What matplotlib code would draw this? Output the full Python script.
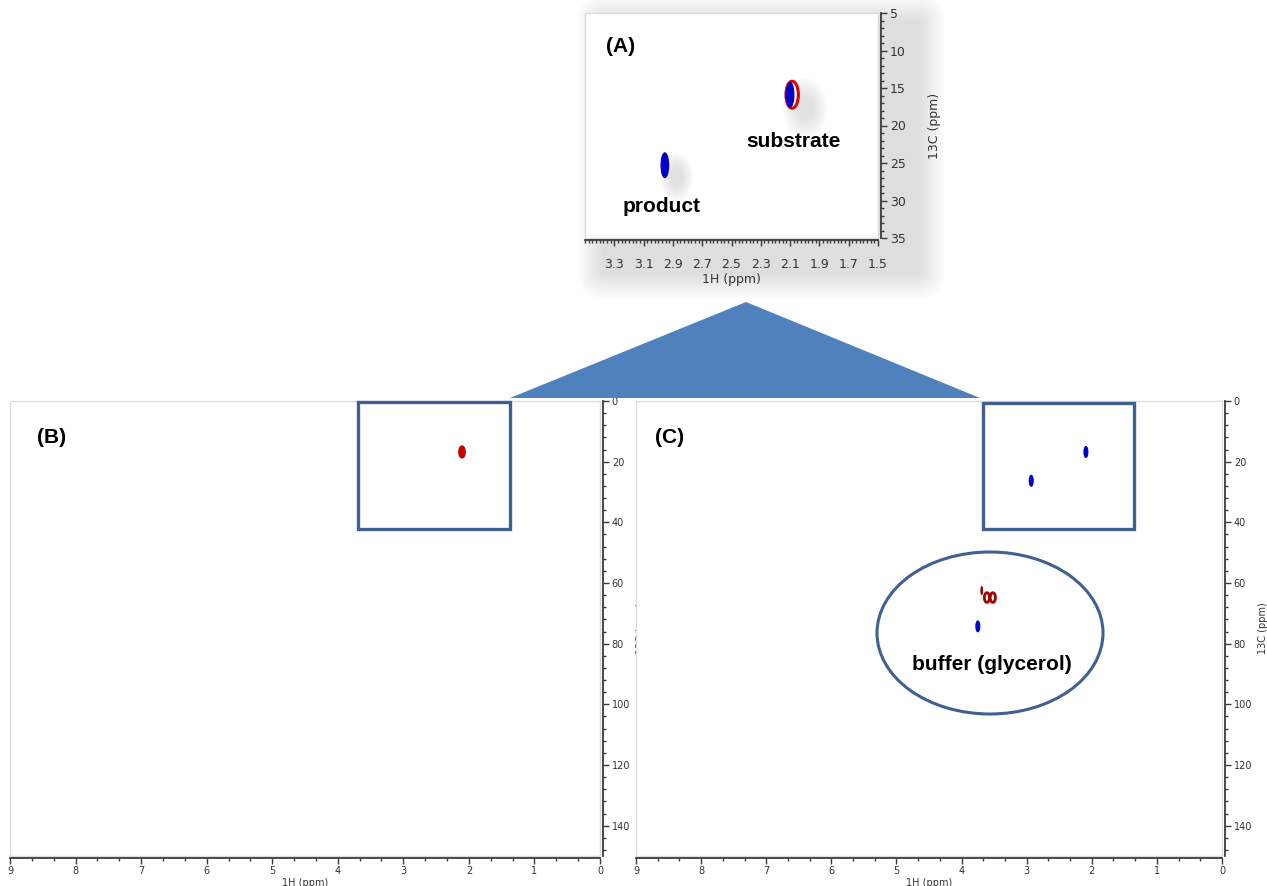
import matplotlib.pyplot as plt
import matplotlib.ticker as ticker
from matplotlib.patches import Ellipse, Rectangle, Polygon, FancyBboxPatch

W, H = 1267, 886

# cross peaks: 1H shift (ppm), 13C shift (ppm)
a_blue_h = [2.10, 2.955]
a_blue_c = [15.9, 25.3]
a_red_h = [2.086]
a_red_c = [15.9]

b_red_h = [2.105]
b_red_c = [16.8]

c_blue_h = [2.09, 2.93, 3.75]
c_blue_c = [16.8, 26.3, 74.3]
c_red_h = [3.69, 3.61, 3.52]
c_red_c = [62.5, 64.8, 64.8]

xlabel = '1H (ppm)'
ylabel = '13C (ppm)'

plt.rcParams['font.family'] = ['Liberation Sans', 'DejaVu Sans']

fig = plt.figure(figsize=(W / 100, H / 100), dpi=100, facecolor='white')


def px_axes(x0, y0, x1, y1, z=1):
    return fig.add_axes([x0 / W, 1 - y1 / H, (x1 - x0) / W, (y1 - y0) / H], zorder=z)


# underlay in pixel coordinates for the soft shadow of panel A
under = px_axes(0, 0, W, H, z=0)
under.set_xlim(0, W)
under.set_ylim(H, 0)
under.axis('off')
for i in range(16):
    pad = 26 - i * 1.6
    under.add_patch(FancyBboxPatch((596 - pad + 8, 10 - pad + 12), 330 + 2 * pad - 16, 268 + 2 * pad - 18,
                                   boxstyle='round,pad=0,rounding_size=%g' % max(pad, 1),
                                   fc='#a8a8a8', ec='none', alpha=0.022))


def setup(ax, xlim, ylim, xmaj, xmin, ymaj, ymin, fs, lfs, pad):
    ax.set_xlim(*xlim)
    ax.set_ylim(*ylim)
    ax.set_facecolor('white')
    ax.spines[['top', 'left']].set_visible(False)
    ax.spines[['right', 'bottom']].set_color('#3a3a3a')
    ax.spines[['right', 'bottom']].set_linewidth(1.3)
    ax.spines['right'].set_position(('outward', 2.5))
    ax.spines['bottom'].set_position(('outward', 1.5))
    ax.yaxis.tick_right()
    ax.yaxis.set_label_position('right')
    ax.xaxis.set_major_locator(ticker.MultipleLocator(xmaj))
    ax.xaxis.set_minor_locator(ticker.MultipleLocator(xmin))
    ax.yaxis.set_major_locator(ticker.MultipleLocator(ymaj))
    ax.yaxis.set_minor_locator(ticker.MultipleLocator(ymin))
    ax.tick_params(which='major', length=4, width=1, color='#3a3a3a', labelsize=fs, labelcolor='#333333', pad=2)
    ax.tick_params(which='minor', length=2.5, width=1, color='#3a3a3a')
    ax.set_xlabel(xlabel, fontsize=lfs, color='#333333', labelpad=1, family='DejaVu Sans')
    ax.set_ylabel(ylabel, fontsize=lfs, color='#333333', labelpad=pad, family='DejaVu Sans')
    for t in ax.get_xticklabels() + ax.get_yticklabels():
        t.set_family('DejaVu Sans')
    ax.add_patch(Rectangle((0, 0), 1, 1, transform=ax.transAxes, fill=False, ec='#dcdcdc', lw=1, clip_on=False, zorder=0))


def peaks(ax, hs, cs, w, h, fc, ec, lw=0.8):
    for x, y in zip(hs, cs):
        ax.add_patch(Ellipse((x, y), w, h, fc=fc, ec=ec, lw=lw, zorder=3))


def shadow(ax, hs, cs, w, h, dx, dy):
    for x, y in zip(hs, cs):
        for k in range(7):
            s = 1 + k * 0.25
            ax.add_patch(Ellipse((x + dx, y + dy), w * s, h * s, fc='#9a9a9a', ec='none', alpha=0.045, zorder=1))


# ---- panel A ----
axA = px_axes(585, 13, 878, 238, z=2)
setup(axA, (3.5, 1.5), (35, 5), 0.2, 0.025, 5, 1, 9, 9, 16)
axA.xaxis.set_major_formatter(ticker.FormatStrFormatter('%.1f'))
axA.set_xticks([3.3, 3.1, 2.9, 2.7, 2.5, 2.3, 2.1, 1.9, 1.7, 1.5])
axA.tick_params(axis='x', which='major', pad=9)
shadow(axA, a_red_h, a_red_c, 0.12, 3.2, -0.09, 1.8)
shadow(axA, a_blue_h[1:], a_blue_c[1:], 0.09, 2.6, -0.08, 1.6)
peaks(axA, a_red_h, a_red_c, 0.085, 3.6, 'white', '#e00000', lw=2.2)
peaks(axA, a_blue_h, a_blue_c, 0.052, 3.3, '#0000c8', '#0000c8')
axA.text(0.07, 0.85, '(A)', transform=axA.transAxes, fontsize=15, fontweight='bold', va='center')
axA.text(0.26, 0.14, 'product', transform=axA.transAxes, fontsize=15, fontweight='bold', ha='center', va='center')
axA.text(0.71, 0.43, 'substrate', transform=axA.transAxes, fontsize=15, fontweight='bold', ha='center', va='center')

# ---- panel B ----
axB = px_axes(10, 401, 600, 856, z=2)
setup(axB, (9, 0), (150, 0), 1, 1 / 3, 20, 4, 7, 7, 4)
peaks(axB, b_red_h, b_red_c, 0.1, 4.0, '#d00000', '#b00000')
axB.text(0.045, 0.92, '(B)', transform=axB.transAxes, fontsize=15, fontweight='bold', va='center')

# ---- panel C ----
axC = px_axes(636, 401, 1222, 856, z=3)
setup(axC, (9, 0), (150, 0), 1, 1 / 3, 20, 4, 7, 7, 4)
peaks(axC, c_blue_h, c_blue_c, 0.06, 3.6, '#0000d0', '#0000d0')
peaks(axC, c_red_h[:1], c_red_c[:1], 0.025, 2.6, '#a00000', '#a00000')
peaks(axC, c_red_h[1:], c_red_c[1:], 0.08, 3.2, 'white', '#a00000', lw=2)
axC.text(0.033, 0.92, '(C)', transform=axC.transAxes, fontsize=15, fontweight='bold', va='center')

# ---- call-out shapes ----
over = px_axes(0, 0, W, H, z=5)
over.set_xlim(0, W)
over.set_ylim(H, 0)
over.axis('off')
box_col = '#3f6090'
over.add_patch(Polygon([(510, 398), (980, 398), (746, 302)], closed=True, fc='#4f81bd', ec='none'))
over.add_patch(Rectangle((358, 402), 152, 127, fill=False, ec=box_col, lw=2.4))
over.add_patch(Rectangle((983, 403), 151, 126, fill=False, ec=box_col, lw=2.4))
over.add_patch(Ellipse((990, 633), 226, 162, fill=False, ec=box_col, lw=2.2))
over.text(992, 665, 'buffer (glycerol)', fontsize=15, fontweight='bold', ha='center', va='center')

fig.savefig('out.png', dpi=100, facecolor='white')
